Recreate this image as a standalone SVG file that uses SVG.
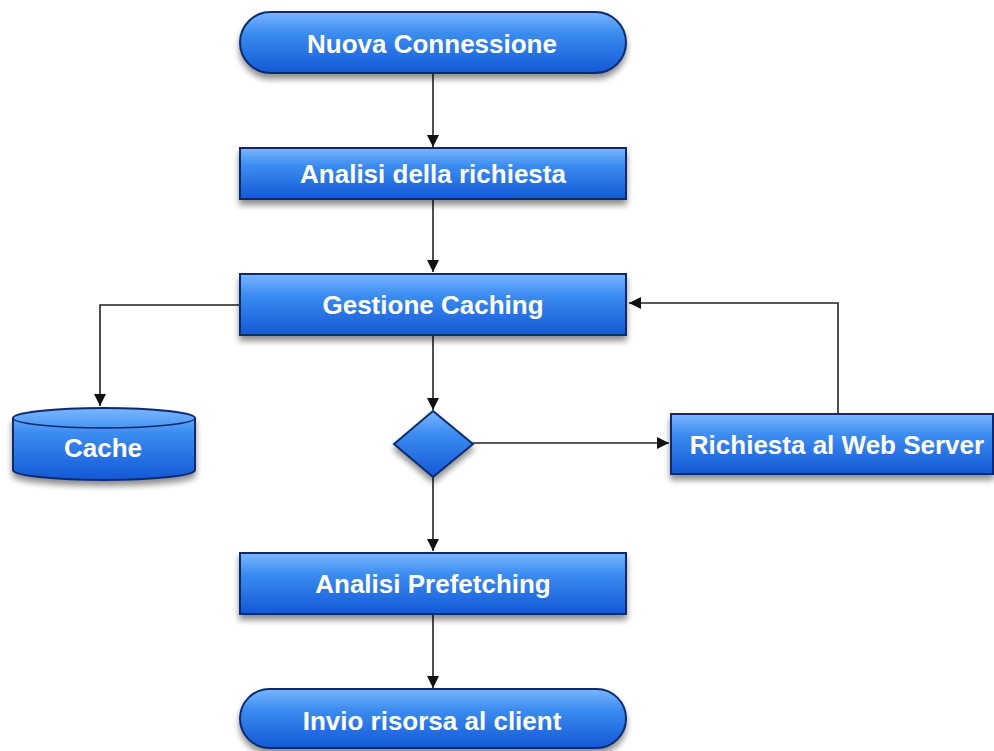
<svg xmlns="http://www.w3.org/2000/svg" width="994" height="751" viewBox="0 0 994 751">
  <defs>
    <linearGradient id="blueFill" x1="0" y1="0" x2="0" y2="1">
      <stop offset="0" stop-color="#7ab6ff"/>
      <stop offset="0.35" stop-color="#3b8cf0"/>
      <stop offset="1" stop-color="#1458d6"/>
    </linearGradient>
    <filter id="shadow" x="-10%" y="-20%" width="120%" height="160%">
      <feGaussianBlur in="SourceAlpha" stdDeviation="3"/>
      <feOffset dx="0" dy="5" result="b"/>
      <feComponentTransfer><feFuncA type="linear" slope="0.45"/></feComponentTransfer>
      <feMerge><feMergeNode/><feMergeNode in="SourceGraphic"/></feMerge>
    </filter>
    <marker id="arrow" viewBox="0 0 10 10" refX="10" refY="5" markerWidth="13" markerHeight="12" markerUnits="userSpaceOnUse" orient="auto">
      <path d="M0,0 L10,5 L0,10 z" fill="#111"/>
    </marker>
  </defs>
  <style>
    .shape { fill: url(#blueFill); stroke: #0b2c6e; stroke-width: 2; filter: url(#shadow); }
    .label { font-family: "Liberation Sans", Arial, sans-serif; font-weight: bold; font-size: 26px; fill: #ffffff; text-anchor: middle; }
    .conn { fill: none; stroke: #222; stroke-width: 1.6; marker-end: url(#arrow); }
  </style>

  <rect width="994" height="751" fill="#ffffff"/>

  <g id="connectors">
    <path class="conn" d="M433,73 V147"/>
    <path class="conn" d="M433,199 V272"/>
    <path class="conn" d="M240,305 H100 V406"/>
    <path class="conn" d="M433,335 V410"/>
    <path class="conn" d="M473,443 H669"/>
    <path class="conn" d="M838,413 V303 H629"/>
    <path class="conn" d="M433,477 V551"/>
    <path class="conn" d="M433,614 V688"/>
  </g>

  <g id="nuova-connessione">
    <rect class="shape" x="240" y="12" width="386" height="61" rx="30.5" ry="30.5"/>
    <text class="label" x="432" y="53">Nuova Connessione</text>
  </g>

  <g id="analisi-richiesta">
    <rect class="shape" x="240" y="148" width="386" height="51"/>
    <text class="label" x="433" y="183">Analisi della richiesta</text>
  </g>

  <g id="gestione-caching">
    <rect class="shape" x="240" y="274" width="386" height="61"/>
    <text class="label" x="433" y="314">Gestione Caching</text>
  </g>

  <g id="cache">
    <path class="shape" d="M13,418 A91,10 0 0 1 195,418 V470 A91,10 0 0 1 13,470 Z"/>
    <path d="M13,418 A91,10 0 0 0 195,418" fill="none" stroke="#0b2c6e" stroke-width="1.5"/>
    <text class="label" x="103" y="457">Cache</text>
  </g>

  <g id="decisione">
    <path class="shape" d="M433,411 L473,444 L433,477 L394,444 Z"/>
  </g>

  <g id="richiesta-web-server">
    <rect class="shape" x="671" y="414" width="322" height="60"/>
    <text class="label" x="837" y="454">Richiesta al Web Server</text>
  </g>

  <g id="analisi-prefetching">
    <rect class="shape" x="240" y="553" width="386" height="61"/>
    <text class="label" x="433" y="593">Analisi Prefetching</text>
  </g>

  <g id="invio-risorsa">
    <rect class="shape" x="240" y="689" width="386" height="59" rx="29.5" ry="29.5"/>
    <text class="label" x="432" y="730">Invio risorsa al client</text>
  </g>
</svg>
